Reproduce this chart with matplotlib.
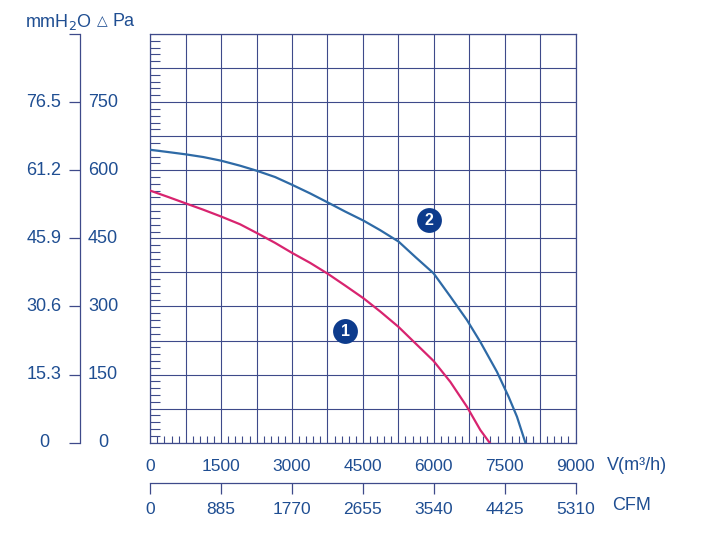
import numpy as np
import matplotlib
matplotlib.use("Agg")
import matplotlib.pyplot as plt
from matplotlib.transforms import blended_transform_factory

# ---- data ----
flow_ticks = [0, 1500, 3000, 4500, 6000, 7500, 9000]          # m3/h
cfm_labels = ["0", "885", "1770", "2655", "3540", "4425", "5310"]
pa_ticks = [0, 150, 300, 450, 600, 750]
mmh2o_labels = ["0", "15.3", "30.6", "45.9", "61.2", "76.5"]

curve1_flow = [0, 381, 750, 1123, 1500, 1900, 2250, 2642, 3000, 3383, 3757, 4125,
               4513, 4866, 5254, 5620, 5996, 6350, 6703, 6985, 7182]
curve1_pa = [555, 541, 527, 513, 498, 481, 462, 440, 418, 396, 372, 346,
             318, 289, 255, 218, 180, 134, 79, 28, 0]
curve2_flow = [0, 381, 750, 1123, 1500, 1900, 2250, 2642, 3000, 3383, 3757, 4125,
               4513, 4866, 5254, 5620, 5996, 6350, 6703, 6985, 7338, 7585, 7762, 7939]
curve2_pa = [645, 640, 635, 629, 621, 610, 599, 585, 568, 549, 529, 509,
             489, 468, 443, 408, 373, 322, 270, 222, 156, 101, 57, 0]

marker_labels = ["1", "2"]
marker_flow = [4125, 5890]
marker_pa = [245, 490]

# ---- style ----
TXT = "#1f4e92"
GRID = "#3e4a8a"
BLUE = "#2e6aa6"
PINK = "#d8246f"
NAVY = "#0d3b8c"
plt.rcParams['font.family'] = ['Liberation Sans', 'DejaVu Sans']

W, H = 719, 540
fig = plt.figure(figsize=(W / 100, H / 100), dpi=100)

L, R, T, B = 150.3, 575.5, 34.0, 442.7
ax = fig.add_axes([L / W, 1 - B / H, (R - L) / W, (B - T) / H])
ax.set_xlim(0, 9000)
ax.set_ylim(0, 900)

xt = np.arange(0, 9001, 750)
ax.set_xticks(xt)
ax.set_xticklabels([f"{int(v)}" if v in flow_ticks else "" for v in xt])
ax.set_yticks(np.arange(0, 901, 75))
ax.set_yticklabels([])
ax.set_xticks(np.arange(0, 9001, 150), minor=True)
ax.set_yticks(np.arange(0, 901, 15), minor=True)
ax.tick_params(axis='x', which='major', length=0, pad=12, labelsize=12.5, labelcolor=TXT)
ax.tick_params(axis='y', which='major', length=0)
ax.tick_params(axis='x', which='minor', direction='in', length=5, width=0.8, color=GRID)
ax.tick_params(axis='y', which='minor', direction='in', length=7, width=0.8, color=GRID)
ax.grid(True, which='major', color=GRID, linewidth=0.8)
for s in ax.spines.values():
    s.set_color(GRID)
    s.set_linewidth(0.9)

ax.plot(curve1_flow, curve1_pa, color=PINK, lw=1.6, zorder=3, solid_joinstyle='round')
ax.plot(curve2_flow, curve2_pa, color=BLUE, lw=1.6, zorder=3, solid_joinstyle='round')

ax.scatter(marker_flow, marker_pa, s=320, color=NAVY, zorder=4, linewidths=0)
for lab, fx, fy in zip(marker_labels, marker_flow, marker_pa):
    ax.text(fx, fy, lab, color='white', fontsize=11.5, fontweight='bold',
            ha='center', va='center', zorder=5)

# left pressure scale (line with ticks)
axl = fig.add_axes([80 / W, 1 - B / H, 0.0001, (B - T) / H])
axl.set_ylim(0, 900)
axl.set_xticks([])
axl.set_yticks(pa_ticks + [900])
axl.set_yticklabels([])
axl.tick_params(axis='y', direction='out', length=8, width=0.9, color=GRID)
for k, s in axl.spines.items():
    s.set_visible(k == 'left')
axl.spines['left'].set_color(GRID)
axl.spines['left'].set_linewidth(0.9)
axl.patch.set_visible(False)

tr = blended_transform_factory(fig.transFigure, ax.transData)
for v, m in zip(pa_ticks, mmh2o_labels):
    ax.text(44 / W, v, m, transform=tr, ha='center', va='center', fontsize=13, color=TXT)
    ax.text(103 / W, v, str(v), transform=tr, ha='center', va='center', fontsize=13, color=TXT)

fig.text(25 / W, 1 - 22 / H, "mmH$_2$O", ha='left', va='center', fontsize=13, color=TXT)
fig.text(97 / W, 1 - 21 / H, "△", ha='left', va='center', fontsize=10, color=TXT,
         family=['DejaVu Sans'])
fig.text(112 / W, 1 - 22 / H, "Pa", ha='left', va='center', fontsize=13, color=TXT)

# CFM axis
axc = fig.add_axes([L / W, 1 - 483 / H, (R - L) / W, 0.0001])
axc.set_xlim(0, 9000)
axc.set_yticks([])
axc.set_xticks(flow_ticks)
axc.set_xticklabels(cfm_labels)
axc.tick_params(axis='x', direction='out', length=8, width=0.9, color=GRID,
                pad=6, labelsize=12.5, labelcolor=TXT)
for k, s in axc.spines.items():
    s.set_visible(k == 'bottom')
axc.spines['bottom'].set_color(GRID)
axc.spines['bottom'].set_linewidth(0.9)
axc.patch.set_visible(False)

fig.text(607 / W, 1 - 466 / H, "V(m³/h)", ha='left', va='center', fontsize=13, color=TXT)
fig.text(612 / W, 1 - 505 / H, "CFM", ha='left', va='center', fontsize=13, color=TXT)

fig.savefig("out.png", dpi=100)
